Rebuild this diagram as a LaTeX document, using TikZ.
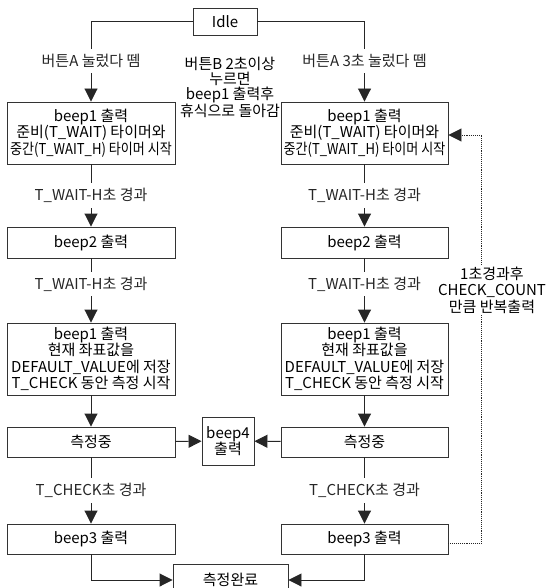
\documentclass[tikz,border=0pt]{standalone}
\usepackage{fontspec}
\setmainfont{Noto Sans CJK KR}
\usepackage{tikz}
\usetikzlibrary{positioning, arrows.meta, calc}

\begin{document}
\begin{tikzpicture}[x=1pt, y=-1pt,
  every node/.style={font=\fontsize{15}{16.5}\selectfont},
  box/.style={rectangle, draw=black!80, line width=0.9pt, fill=white, minimum width=168pt, inner sep=1pt, align=center},
  tbox/.style={rectangle, draw=black!80, line width=0.9pt, fill=white, inner sep=1pt, align=center},
  lbl/.style={fill=white, inner xsep=2pt, inner ysep=5pt, align=center},
  arrow/.style={-{Triangle[length=13pt, width=13pt]}, line width=0.9pt, black!85},
  loopback/.style={-{Triangle[length=13pt, width=13pt]}, line width=0.9pt, black!85, densely dotted}
]
\useasboundingbox (0,0) rectangle (547,588);

% Start state
\node[tbox, minimum width=64pt, minimum height=27pt] (idle) at (225,21.5) {Idle};

% Left branch (short press)
\node[box, minimum height=62pt] (lb1) at (91,133) {beep1 출력\\준비(T\_WAIT) 타이머와\\\scalebox{0.87}[1]{중간(T\_WAIT\_H) 타이머 시작}};
\node[box, minimum height=31pt] (lb2) at (91,242.5) {beep2 출력};
\node[box, minimum height=72pt] (lb3) at (91,359) {beep1 출력\\현재 좌표값을\\DEFAULT\_VALUE에 저장\\T\_CHECK 동안 측정 시작};
\node[box, minimum height=30pt] (lmeas) at (91,442) {측정중};
\node[box, minimum height=30pt] (lbeep3) at (91,539) {beep3 출력};

% Right branch (3 s press)
\node[box, minimum width=167pt, minimum height=62pt] (rb1) at (364.5,133) {beep1 출력\\준비(T\_WAIT) 타이머와\\\scalebox{0.87}[1]{중간(T\_WAIT\_H) 타이머 시작}};
\node[box, minimum width=167pt, minimum height=31pt] (rb2) at (364.5,242.5) {beep2 출력};
\node[box, minimum width=167pt, minimum height=72pt] (rb3) at (364.5,359) {beep1 출력\\현재 좌표값을\\DEFAULT\_VALUE에 저장\\T\_CHECK 동안 측정 시작};
\node[box, minimum width=167pt, minimum height=30pt] (rmeas) at (364.5,442) {측정중};
\node[box, minimum width=167pt, minimum height=30pt] (rbeep3) at (364.5,539) {beep3 출력};

% Middle
\node[tbox, minimum width=52pt, minimum height=48pt] (beep4) at (228,441) {beep4\\출력};
\node[tbox, minimum width=115pt, minimum height=32pt] (done) at (230.5,580) {측정완료};
\node[align=center, inner sep=0pt, font=\fontsize{15}{15.3}\selectfont] (btnb) at (230,87.5) {버튼B 2초이상\\누르면\\beep1 출력후\\휴식으로 돌아감};

% Arrows
\draw[arrow] (idle.west) -| node[lbl, pos=0.745] {버튼A 눌렀다 뗌} (lb1.north);
\draw[arrow] (idle.east) -| node[lbl, pos=0.745] {버튼A 3초 눌렀다 뗌} (rb1.north);

\draw[arrow] (lb1) -- node[lbl] {T\_WAIT-H초 경과} (lb2);
\draw[arrow] (lb2) -- node[lbl, pos=0.4] {T\_WAIT-H초 경과} (lb3);
\draw[arrow] (lb3) -- (lmeas);
\draw[arrow] (lmeas) -- node[lbl] {T\_CHECK초 경과} (lbeep3);
\draw[arrow] (lbeep3.south) |- (done.west);

\draw[arrow] (rb1) -- node[lbl] {T\_WAIT-H초 경과} (rb2);
\draw[arrow] (rb2) -- node[lbl, pos=0.4] {T\_WAIT-H초 경과} (rb3);
\draw[arrow] (rb3) -- (rmeas);
\draw[arrow] (rmeas) -- node[lbl] {T\_CHECK초 경과} (rbeep3);
\draw[arrow] (rbeep3.south) |- (done.east);

\draw[arrow] (lmeas) -- (beep4);
\draw[arrow] (rmeas) -- (beep4);

% Repeat loop
\draw[loopback] ([yshift=-4pt]rbeep3.east) -- ++(33,0) |- ([yshift=-2pt]rb1.east);
\node[lbl, inner ysep=2pt] (repeat) at (492,290) {1초경과후\\CHECK\_COUNT\\만큼 반복출력};

\end{tikzpicture}
\end{document}
